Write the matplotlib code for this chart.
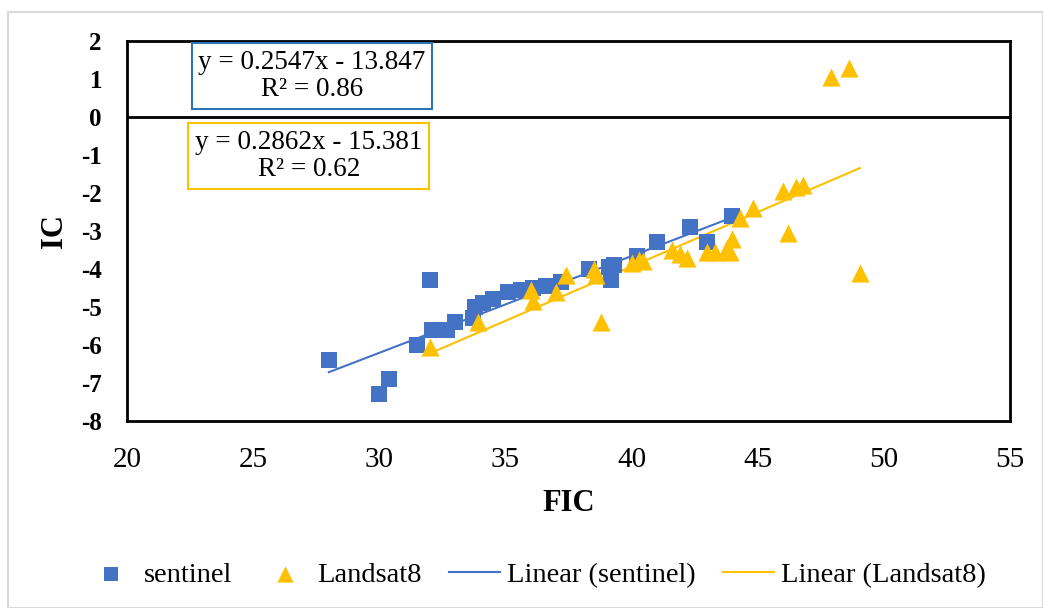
import matplotlib
matplotlib.use("Agg")
import matplotlib.pyplot as plt
import numpy as np
from matplotlib.patches import Rectangle

# --- data ---
sentinel_x = [28.0, 30.0, 30.4, 31.5, 32.0, 32.1, 32.7, 33.0, 33.7, 33.8, 34.1, 34.5,
              35.1, 35.6, 36.1, 36.6, 37.2, 38.3, 39.1, 39.2, 39.3, 40.2, 41.0, 42.3,
              43.0, 44.0]
sentinel_y = [-6.4, -7.3, -6.9, -6.0, -4.3, -5.6, -5.6, -5.4, -5.3, -5.0, -4.9, -4.8,
              -4.6, -4.55, -4.5, -4.45, -4.35, -4.0, -3.95, -4.3, -3.9, -3.65, -3.3, -2.9,
              -3.3, -2.6]
landsat_x = [32.0, 33.9, 36.0, 36.1, 37.0, 37.4, 38.5, 38.6, 38.8, 40.0, 40.3, 40.45,
             41.6, 41.9, 42.2, 43.0, 43.3, 43.8, 43.9, 44.0, 44.3, 44.8, 46.2, 46.0,
             46.5, 46.8, 47.9, 48.6, 49.05]
landsat_y = [-6.05, -5.4, -4.55, -4.85, -4.6, -4.15, -4.0, -4.15, -5.4, -3.85, -3.75, -3.8,
             -3.5, -3.6, -3.7, -3.55, -3.55, -3.45, -3.55, -3.2, -2.65, -2.4, -3.05, -1.95,
             -1.85, -1.8, 1.05, 1.3, -4.1]
sentinel_fit = (0.2547, -13.847)
landsat_fit = (0.2862, -15.381)
sentinel_eq = "y = 0.2547x - 13.847\nR² = 0.86"
landsat_eq = "y = 0.2862x - 15.381\nR² = 0.62"
x_ticks = [20, 25, 30, 35, 40, 45, 50, 55]
y_ticks = [2, 1, 0, -1, -2, -3, -4, -5, -6, -7, -8]

BLUE = "#4472C4"
YELLOW = "#FFC000"
SERIF = ["Liberation Serif", "DejaVu Serif"]

plt.rcParams["font.family"] = SERIF
plt.rcParams["axes.unicode_minus"] = False

fig = plt.figure(figsize=(10.43, 6.08), dpi=100)
# outer light border
fig.patches.append(Rectangle((8 / 1043, 0), 1 - 8 / 1043, 1 - 12 / 608, transform=fig.transFigure,
                             fill=False, edgecolor="#D9D9D9", lw=1.5))

ax = fig.add_axes([127 / 1043, 1 - 421 / 608, (1010 - 127) / 1043, (421 - 41) / 608])
ax.set_xlim(20, 55)
ax.set_ylim(-8, 2)

# trendlines
xs = np.array([min(sentinel_x), max(sentinel_x)])
ax.plot(xs, sentinel_fit[0] * xs + sentinel_fit[1], color=BLUE, lw=1.5, zorder=2,
        label="Linear (sentinel)")
xl = np.array([min(landsat_x), max(landsat_x)])
ax.plot(xl, landsat_fit[0] * xl + landsat_fit[1], color=YELLOW, lw=1.5, zorder=2,
        label="Linear (Landsat8)")

sc1 = ax.scatter(sentinel_x, sentinel_y, marker="s", s=140, color=BLUE, zorder=3,
                 linewidths=0, label="sentinel")
sc2 = ax.scatter(landsat_x, landsat_y, marker="^", s=170, color=YELLOW, zorder=4,
                 linewidths=0, label="Landsat8")

ax.axhline(0, color="black", lw=2, zorder=1)
for sp in ax.spines.values():
    sp.set_linewidth(2)
    sp.set_color("black")

ax.set_xticks(x_ticks)
ax.set_yticks(y_ticks)
ax.tick_params(length=0)
ax.tick_params(axis="x", labelsize=21, pad=18.5)
ax.tick_params(axis="y", labelsize=18, pad=18)
for lab in ax.get_yticklabels():
    lab.set_fontweight("bold")

ax.set_xlabel("FIC", fontsize=22, fontweight="bold", labelpad=12)
ax.set_ylabel("IC", fontsize=22, fontweight="bold", labelpad=9)

# equation boxes
ax.text(27.33, 1.08, sentinel_eq, ha="center", va="center", fontsize=19.5, linespacing=1.12,
        bbox=dict(boxstyle="square,pad=0.25", facecolor="white", edgecolor="#2E75B6", lw=1.5),
        zorder=5)
ax.text(27.21, -1.03, landsat_eq, ha="center", va="center", fontsize=19.5, linespacing=1.12,
        bbox=dict(boxstyle="square,pad=0.25", facecolor="white", edgecolor=YELLOW, lw=1.5),
        zorder=5)

handles, labels = ax.get_legend_handles_labels()
order = [2, 3, 0, 1]
fig.legend([handles[i] for i in order], [labels[i] for i in order],
           loc="center", bbox_to_anchor=(0.5137, 1 - 575 / 608), ncol=4, frameon=False,
           fontsize=20.5, handlelength=1.8, handletextpad=0.25, columnspacing=0.95,
           markerscale=0.9)

fig.savefig("out.png", dpi=100)
